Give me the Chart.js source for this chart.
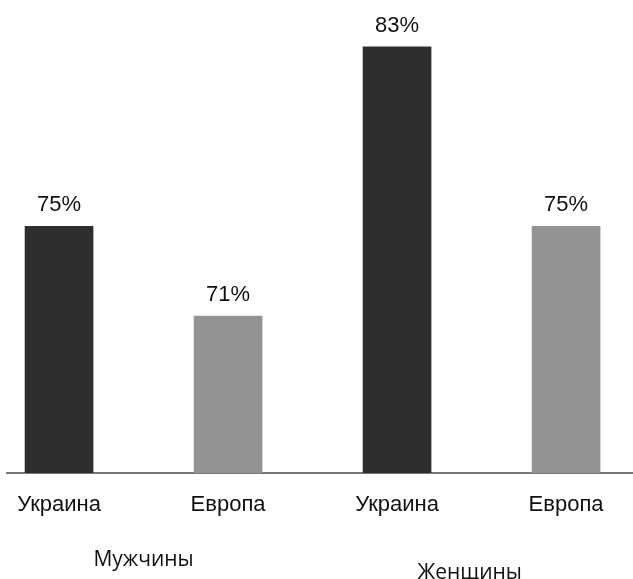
<!DOCTYPE html>
<html>
<head>
<meta charset="utf-8">
<script src="https://cdn.jsdelivr.net/npm/chart.js@4.4.1/dist/chart.umd.min.js"></script>
<style>
  html, body { margin: 0; padding: 0; background: #fff; }
  #wrap { width: 633px; height: 579px; position: relative; }
</style>
</head>
<body>
<div id="wrap"><canvas id="chart"></canvas></div>
<script>
const countries = ['Украина', 'Европа', 'Украина', 'Европа'];
const groups = ['Мужчины', 'Женщины'];
const shares = [75, 71, 83, 75];

const FONT = '"Liberation Sans", Arial, sans-serif';
const GROUP_FONT = '"Open Sans", "Liberation Sans", sans-serif';
const DARK = '#2e2e2e';
const GRAY = '#939393';

// percentage above each bar
const valueLabels = {
    id: 'valueLabels',
    afterDatasetsDraw(chart) {
        const ctx = chart.ctx;
        const meta = chart.getDatasetMeta(0);
        ctx.save();
        ctx.font = '22px ' + FONT;
        ctx.fillStyle = '#111';
        ctx.textAlign = 'center';
        ctx.textBaseline = 'alphabetic';
        meta.data.forEach((bar, i) => {
            ctx.fillText(shares[i] + '%', bar.x, bar.y - 15);
        });
        ctx.restore();
    }
};

const xMin = -0.308, xMax = 3.396;

new Chart(document.getElementById('chart'), {
    type: 'bar',
    data: {
        datasets: [{
            data: shares.map((v, i) => ({ x: i, y: v })),
            backgroundColor: [DARK, GRAY, DARK, GRAY],
            barThickness: 68
        }]
    },
    options: {
        responsive: true,
        maintainAspectRatio: false,
        animation: false,
        layout: { padding: { left: 7, right: 0, top: 2, bottom: 0 } },
        plugins: {
            legend: { display: false },
            tooltip: { enabled: false }
        },
        scales: {
            x: {
                type: 'linear',
                weight: 0,
                offset: false,
                min: xMin,
                max: xMax,
                grid: { display: false, drawTicks: false, offset: false },
                border: { display: true, color: '#777', width: 2 },
                ticks: {
                    autoSkip: false,
                    maxRotation: 0,
                    padding: 16,
                    color: '#111',
                    font: { family: FONT, size: 22, lineHeight: 1.45 },
                    callback: (v, i) => countries[i]
                },
                afterBuildTicks: axis => { axis.ticks = countries.map((c, i) => ({ value: i })); },
                afterFit: axis => { axis.height = 48; }
            },
            x2: {
                type: 'linear',
                position: 'bottom',
                weight: 1,
                offset: false,
                min: xMin,
                max: xMax,
                grid: { display: false, drawTicks: false, offset: false },
                border: { display: false },
                ticks: {
                    autoSkip: false,
                    maxRotation: 0,
                    padding: 33,
                    color: '#111',
                    font: { family: GROUP_FONT, size: 21, lineHeight: 13 / 21 },
                    callback: (v, i) => i === 0 ? groups[0] : ['', groups[1]]
                },
                afterBuildTicks: axis => { axis.ticks = [{ value: 0.5 }, { value: 2.43 }]; },
                afterFit: axis => { axis.height = 58; }
            },
            y: {
                display: false,
                min: 64,
                max: 85
            }
        }
    },
    plugins: [valueLabels]
});
</script>
</body>
</html>
